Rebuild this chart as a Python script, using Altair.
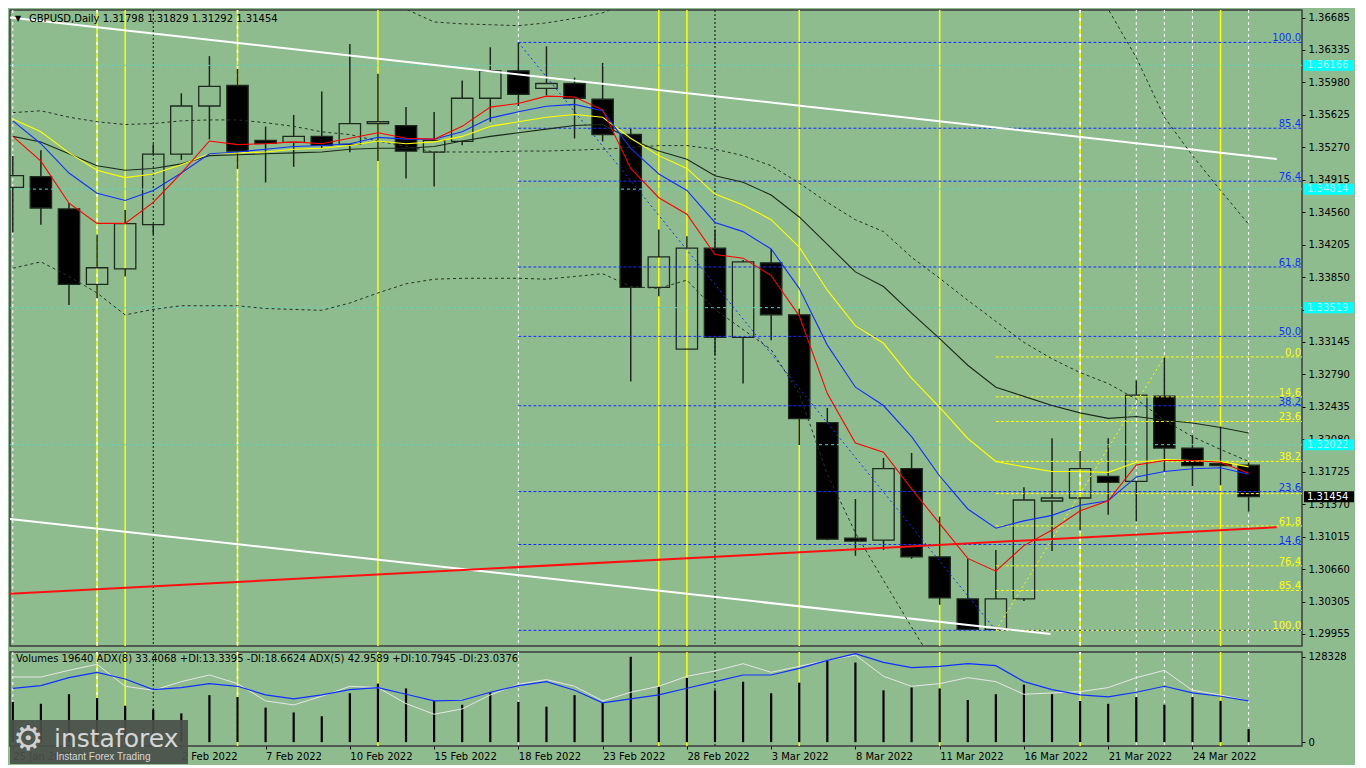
import altair as alt
import pandas as pd

# ---------------- data ----------------
dates = ["25 Jan 2022", "26 Jan 2022", "27 Jan 2022", "28 Jan 2022", "31 Jan 2022",
         "1 Feb 2022", "2 Feb 2022", "3 Feb 2022", "4 Feb 2022", "7 Feb 2022",
         "8 Feb 2022", "9 Feb 2022", "10 Feb 2022", "11 Feb 2022", "14 Feb 2022",
         "15 Feb 2022", "16 Feb 2022", "17 Feb 2022", "18 Feb 2022", "21 Feb 2022",
         "22 Feb 2022", "23 Feb 2022", "24 Feb 2022", "25 Feb 2022", "28 Feb 2022",
         "1 Mar 2022", "2 Mar 2022", "3 Mar 2022", "4 Mar 2022", "7 Mar 2022",
         "8 Mar 2022", "9 Mar 2022", "10 Mar 2022", "11 Mar 2022", "14 Mar 2022",
         "15 Mar 2022", "16 Mar 2022", "17 Mar 2022", "18 Mar 2022", "21 Mar 2022",
         "22 Mar 2022", "23 Mar 2022", "24 Mar 2022", "25 Mar 2022", "28 Mar 2022"]

opens = [1.34833, 1.34951, 1.34598, 1.33773, 1.33944, 1.34426, 1.35197, 1.35722, 1.35946, 1.35347,
         1.35325, 1.35390, 1.35304, 1.35529, 1.35507, 1.35218, 1.35336, 1.35807, 1.36107, 1.35914,
         1.35968, 1.35796, 1.35411, 1.33741, 1.33067, 1.34169, 1.33195, 1.34009, 1.33441, 1.32264,
         1.31001, 1.30979, 1.31761, 1.30797, 1.30337, 1.30005, 1.30337, 1.31407, 1.31440, 1.31675,
         1.31621, 1.32553, 1.31985, 1.31814, 1.31798]
highs = [1.35176, 1.35240, 1.34662, 1.34319, 1.34587, 1.35304, 1.35861, 1.36267, 1.36128, 1.35497,
         1.35625, 1.35882, 1.36400, 1.36075, 1.35711, 1.35657, 1.36000, 1.36364, 1.36417, 1.36374,
         1.36032, 1.36193, 1.35475, 1.34373, 1.34298, 1.34373, 1.34041, 1.34159, 1.33506, 1.32424,
         1.31429, 1.31878, 1.31932, 1.31236, 1.30776, 1.30872, 1.31557, 1.32093, 1.31953, 1.32093,
         1.32724, 1.32981, 1.32125, 1.32221, 1.31829]
lows = [1.34341, 1.34426, 1.33548, 1.33623, 1.33859, 1.34319, 1.35133, 1.35358, 1.35036, 1.34887,
        1.35058, 1.35261, 1.35218, 1.35122, 1.34929, 1.34844, 1.35293, 1.35550, 1.35722, 1.35839,
        1.35368, 1.35336, 1.32713, 1.33645, 1.33067, 1.33002, 1.32692, 1.33163, 1.32018, 1.30979,
        1.30808, 1.30872, 1.30776, 1.30273, 1.29994, 1.29994, 1.30315, 1.30861, 1.31086, 1.31258,
        1.31183, 1.31729, 1.31568, 1.31579, 1.31292]
closes = [1.34961, 1.34608, 1.33773, 1.33955, 1.34437, 1.35197, 1.35722, 1.35936, 1.35229, 1.35315,
          1.35390, 1.35293, 1.35529, 1.35550, 1.35229, 1.35347, 1.35807, 1.36107, 1.35850, 1.35968,
          1.35807, 1.35411, 1.33741, 1.34073, 1.34169, 1.33195, 1.34019, 1.33441, 1.32307, 1.30990,
          1.30969, 1.31761, 1.30797, 1.30348, 1.30005, 1.30337, 1.31418, 1.31440, 1.31761, 1.31611,
          1.32564, 1.31985, 1.31793, 1.31793, 1.31454]

ma_red = [1.3539, 1.3512, 1.3466, 1.3444, 1.3444, 1.3467, 1.3499, 1.3534, 1.3530, 1.3531,
          1.3533, 1.3531, 1.3537, 1.3543, 1.3537, 1.3536, 1.3550, 1.3571, 1.3575, 1.3583,
          1.3582, 1.3568, 1.3504, 1.3472, 1.3454, 1.3410, 1.3406, 1.3387, 1.3343, 1.3258,
          1.3204, 1.3194, 1.3154, 1.3116, 1.3078, 1.3064, 1.3092, 1.3109, 1.3130, 1.3141,
          1.3180, 1.3185, 1.3185, 1.3183, 1.3171]
ma_blue = [1.3556, 1.3531, 1.3499, 1.3477, 1.3469, 1.3480, 1.3499, 1.3520, 1.3522, 1.3525,
           1.3528, 1.3529, 1.3531, 1.3538, 1.3536, 1.3536, 1.3544, 1.3559, 1.3566, 1.3572,
           1.3574, 1.3567, 1.3526, 1.3498, 1.3480, 1.3445, 1.3435, 1.3416, 1.3373, 1.3311,
           1.3265, 1.3245, 1.3211, 1.3168, 1.3132, 1.3111, 1.3119, 1.3125, 1.3136, 1.3141,
           1.3167, 1.3173, 1.3176, 1.3177, 1.3170]
ma_yellow = [1.3558, 1.3544, 1.3521, 1.3502, 1.3494, 1.3498, 1.3508, 1.3520, 1.3521, 1.3522,
             1.3525, 1.3526, 1.3529, 1.3534, 1.3531, 1.3533, 1.3539, 1.3550, 1.3555, 1.3560,
             1.3563, 1.3560, 1.3537, 1.3518, 1.3504, 1.3476, 1.3464, 1.3448, 1.3418, 1.3371,
             1.3332, 1.3313, 1.3275, 1.3243, 1.3209, 1.3184, 1.3178, 1.3173, 1.3173, 1.3172,
             1.3183, 1.3186, 1.3185, 1.3184, 1.3178]
ma_dark = [1.3539, 1.3533, 1.3520, 1.3507, 1.3502, 1.3504, 1.3509, 1.3518, 1.3519, 1.3520,
           1.3521, 1.3522, 1.3525, 1.3526, 1.3526, 1.3528, 1.3534, 1.3539, 1.3543, 1.3547,
           1.3551, 1.3552, 1.3536, 1.3523, 1.3514, 1.3496, 1.3489, 1.3475, 1.3451, 1.3421,
           1.3391, 1.3375, 1.3346, 1.3318, 1.3289, 1.3265, 1.3255, 1.3245, 1.3237, 1.3231,
           1.3233, 1.3229, 1.3226, 1.3221, 1.3215]
bb_upper = [1.3735, 1.3732, 1.3735, 1.3742, 1.3759, 1.3756, 1.3758, 1.3760, 1.3760, 1.3757,
            1.3750, 1.3740, 1.3725, 1.3700, 1.3678, 1.3664, 1.3662, 1.3661, 1.3660, 1.3663,
            1.3668, 1.3674, 1.3687, 1.3694, 1.3689, 1.3701, 1.3706, 1.3708, 1.3718, 1.3764,
            1.3790, 1.3817, 1.3812, 1.3815, 1.3801, 1.3774, 1.3742, 1.3721, 1.3700, 1.3678,
            1.3625, 1.3560, 1.3518, 1.3480, 1.3443]
bb_mid = [1.3565, 1.3567, 1.3560, 1.3555, 1.3552, 1.3553, 1.3556, 1.3557, 1.3557, 1.3554,
          1.3550, 1.3544, 1.3541, 1.3534, 1.3528, 1.3522, 1.3522, 1.3522, 1.3523, 1.3523,
          1.3524, 1.3525, 1.3527, 1.3529, 1.3529, 1.3525, 1.3518, 1.3507, 1.3488, 1.3467,
          1.3448, 1.3435, 1.3407, 1.3384, 1.3360, 1.3337, 1.3314, 1.3296, 1.3281, 1.3269,
          1.3252, 1.3229, 1.3211, 1.3197, 1.3184]
bb_lower = [1.3395, 1.3402, 1.3386, 1.3368, 1.3344, 1.3350, 1.3354, 1.3354, 1.3354, 1.3351,
            1.3350, 1.3349, 1.3357, 1.3368, 1.3378, 1.3383, 1.3384, 1.3384, 1.3384, 1.3383,
            1.3386, 1.3389, 1.3375, 1.3373, 1.3382, 1.3350, 1.3328, 1.3306, 1.3258, 1.3170,
            1.3106, 1.3054, 1.3003, 1.2953, 1.2918, 1.2897, 1.2892, 1.2897, 1.2908, 1.2913,
            1.2924, 1.2929, 1.2929, 1.2927, 1.2925]

volumes = [60564, 57680, 72100, 66332, 54796, 49028, 43260, 70658, 67774, 51912,
           44702, 38934, 73542, 87962, 80752, 62006, 56238, 74984, 60564, 53354,
           70658, 59122, 128328, 83636, 96614, 77868, 90846, 73542, 89404, 122570,
           119686, 77868, 82194, 80752, 63448, 72100, 86520, 72100, 62006, 57680,
           67774, 56238, 67774, 62006, 19640]
adx_blue = [81, 85, 97, 105, 95, 79, 82, 88, 84, 71, 65, 71, 79, 82, 72, 62, 63, 75, 85, 91,
            78, 59, 65, 71, 81, 91, 101, 101, 111, 123, 133, 120, 112, 114, 118, 115, 91, 79, 71, 68,
            75, 84, 74, 69, 62]
adx_white = [98, 98, 108, 117, 84, 78, 91, 101, 88, 62, 56, 69, 84, 82, 58, 42, 50, 71, 87, 94,
             84, 62, 75, 84, 99, 107, 118, 105, 114, 123, 131, 99, 84, 88, 97, 91, 72, 74, 76, 82,
             97, 108, 78, 71, 62]

price_ticks = [1.36685, 1.36335, 1.35980, 1.35625, 1.35270, 1.34915, 1.34560, 1.34205, 1.33850,
               1.33495, 1.33145, 1.32790, 1.32435, 1.32080, 1.31725, 1.31370, 1.31015, 1.30660,
               1.30305, 1.29955]
date_ticks = [0, 6, 9, 12, 15, 18, 21, 24, 27, 30, 33, 36, 39, 42]
vol_ticks = [0, 128328]

cyan_levels = [1.36166, 1.34814, 1.33519, 1.32022]
last_price = 1.31454

fib_blue = {"i_hi": 18, "hi": 1.36417, "i_lo": 35, "lo": 1.29994}
fib_blue_pcts = [100.0, 85.4, 76.4, 61.8, 50.0, 38.2, 23.6, 14.6, 0.0]
fib_yel = {"i_lo": 35, "lo": 1.29994, "i_hi": 41, "hi": 1.32981}
fib_yel_pcts = [0.0, 14.6, 23.6, 38.2, 50.0, 61.8, 76.4, 85.4, 100.0]

# trend lines: (start index, start price, end index, end price)
trend_white = [(-0.1, 1.36688, 45.0, 1.35144), (-0.1, 1.31210, 36.95, 1.29954)]
trend_red = [(-0.1, 1.30393, 45.0, 1.31121)]

v_yellow = [4, 13, 23, 24, 28, 33, 43]
v_yellow_white = [3, 8, 38]
v_white = [0, 18, 40, 41, 42, 44]
v_black = [5, 25]

header = "GBPUSD,Daily  1.31798 1.31829 1.31292 1.31454"
vol_header = ("Volumes 19640  ADX(8) 33.4068 +DI:13.3395 -DI:18.6624  "
              "ADX(5) 42.9589 +DI:10.7945 -DI:23.0376")

# ---------------- styling ----------------
FONT = "DejaVu Sans"
BG = "#8fbc8f"
W, H1, H2 = 1292, 636, 94
XDOM = [-0.1, 45.9]
YDOM = [1.29823, 1.36771]
VDOM = [-5768, 135548]
CYAN = "#3fe0d0"
BLUE = "#1030ff"
YEL = "#ffff00"
WICK = "#1c261c"

n = len(dates)
df = pd.DataFrame({"i": list(range(n)), "date": dates, "o": opens, "h": highs, "l": lows,
                   "c": closes, "red": ma_red, "blue": ma_blue, "yellow": ma_yellow,
                   "dark": ma_dark, "bbu": bb_upper, "bbm": bb_mid, "bbl": bb_lower,
                   "vol": volumes, "adxb": [v * 1000 for v in adx_blue],
                   "adxw": [v * 1000 for v in adx_white]})
df["top"] = df[["o", "c"]].max(axis=1)
df["bot"] = df[["o", "c"]].min(axis=1)
df["zero"] = 0

xs = alt.Scale(domain=XDOM, nice=False, zero=False)
ys = alt.Scale(domain=YDOM, nice=False, zero=False)
vs = alt.Scale(domain=VDOM, nice=False, zero=False)

y_axis = alt.Axis(orient="right", values=price_ticks, format=".5f", title=None, grid=False,
                  domain=False, tickSize=3, tickColor="black", labelColor="black",
                  labelFont=FONT, labelFontSize=10, labelPadding=3, labelOverlap=False)
v_axis = alt.Axis(orient="right", values=vol_ticks, format="d", title=None, grid=False,
                  domain=False, tickSize=3, tickColor="black", labelColor="black",
                  labelFont=FONT, labelFontSize=10, labelPadding=3, labelOverlap=False)
label_js = "[" + ",".join("'%s'" % d for d in dates) + "][datum.value]"
x_axis = alt.Axis(values=date_ticks, labelExpr=label_js, title=None, grid=False, domain=False,
                  tickSize=3, tickColor="black", labelColor="black", labelFont=FONT,
                  labelFontSize=10, labelAlign="left", labelPadding=2, labelFlush=False,
                  labelOverlap=False, labelBound=False)


def X(f="i", axis=None):
    return alt.X(f"{f}:Q", scale=xs, axis=axis)


def Y(f):
    return alt.Y(f"{f}:Q", scale=ys, axis=y_axis)


def vlines(axis=None):
    out = []
    out.append(alt.Chart(pd.DataFrame({"i": v_yellow})).mark_rule(color=YEL, strokeWidth=1.5)
               .encode(x=X(axis=axis)))
    out.append(alt.Chart(pd.DataFrame({"i": v_yellow_white})).mark_rule(color=YEL, strokeWidth=1.5)
               .encode(x=X(axis=axis)))
    out.append(alt.Chart(pd.DataFrame({"i": v_yellow_white})).mark_rule(
        color="white", strokeWidth=1.5, strokeDash=[3, 5]).encode(x=X(axis=axis)))
    out.append(alt.Chart(pd.DataFrame({"i": v_white})).mark_rule(
        color="white", strokeWidth=1, strokeDash=[3, 3]).encode(x=X(axis=axis)))
    out.append(alt.Chart(pd.DataFrame({"i": v_black})).mark_rule(
        color="#101010", strokeWidth=1, strokeDash=[2, 2]).encode(x=X(axis=axis)))
    return out


base = alt.Chart(df)
layers = vlines()

# candles
layers.append(base.mark_rule(color=WICK, strokeWidth=1.5, clip=True)
              .encode(x=X(), y=Y("h"), y2="top:Q"))
layers.append(base.mark_rule(color=WICK, strokeWidth=1.5, clip=True)
              .encode(x=X(), y=Y("bot"), y2="l:Q"))
layers.append(base.transform_calculate(x1="datum.i - 0.38", x2="datum.i + 0.38")
              .mark_rect(stroke="#1e2a1e", strokeWidth=1.3, clip=True)
              .encode(x=X("x1"), x2="x2:Q", y=Y("o"), y2="c:Q",
                      fill=alt.condition("datum.c >= datum.o", alt.value("transparent"),
                                         alt.value("black"))))

# horizontal cyan levels
layers.append(alt.Chart(pd.DataFrame({"p": cyan_levels})).mark_rule(
    color=CYAN, strokeWidth=1, strokeDash=[3, 3]).encode(y=Y("p")))

# fibonacci levels
fb = pd.DataFrame({"pct": fib_blue_pcts})
fb["p"] = fib_blue["lo"] + (fib_blue["hi"] - fib_blue["lo"]) * fb["pct"] / 100
fb["xs"] = fib_blue["i_hi"]
fb["xe"] = XDOM[1]
fb["lab"] = fb["pct"].map(lambda v: "%.1f" % v)
fy = pd.DataFrame({"pct": fib_yel_pcts})
fy["p"] = fib_yel["hi"] - (fib_yel["hi"] - fib_yel["lo"]) * fy["pct"] / 100
fy["xs"] = fib_yel["i_lo"]
fy["xe"] = XDOM[1]
fy["lab"] = fy["pct"].map(lambda v: "%.1f" % v)

layers.append(alt.Chart(fb).mark_rule(color=BLUE, strokeWidth=1, strokeDash=[3, 2])
              .encode(x=X("xs"), x2="xe:Q", y=Y("p")))
layers.append(alt.Chart(fy).mark_rule(color=YEL, strokeWidth=1, strokeDash=[3, 2])
              .encode(x=X("xs"), x2="xe:Q", y=Y("p")))

# diagonals
diag_blue = pd.DataFrame({"x": [fib_blue["i_hi"]], "y": [fib_blue["hi"]],
                          "x2": [fib_blue["i_lo"]], "y2": [fib_blue["lo"]]})
diag_yel = pd.DataFrame({"x": [fib_yel["i_lo"]], "y": [fib_yel["lo"]],
                         "x2": [fib_yel["i_hi"]], "y2": [fib_yel["hi"]]})
tw = pd.DataFrame(trend_white, columns=["x", "y", "x2", "y2"])
tr = pd.DataFrame(trend_red, columns=["x", "y", "x2", "y2"])
layers.append(alt.Chart(diag_blue).mark_rule(color=BLUE, strokeWidth=1, strokeDash=[2, 3])
              .encode(x=X("x"), y=Y("y"), x2="x2:Q", y2="y2:Q"))
layers.append(alt.Chart(diag_yel).mark_rule(color=YEL, strokeWidth=1, strokeDash=[2, 3])
              .encode(x=X("x"), y=Y("y"), x2="x2:Q", y2="y2:Q"))
layers.append(alt.Chart(tw).mark_rule(color="white", strokeWidth=2)
              .encode(x=X("x"), y=Y("y"), x2="x2:Q", y2="y2:Q"))
layers.append(alt.Chart(tr).mark_rule(color="#ff1010", strokeWidth=2)
              .encode(x=X("x"), y=Y("y"), x2="x2:Q", y2="y2:Q"))

# bollinger bands
for f in ["bbu", "bbm", "bbl"]:
    layers.append(base.mark_line(color="#243424", strokeWidth=1, strokeDash=[3, 3], clip=True)
                  .encode(x=X(), y=Y(f)))
# moving averages
for f, col in [("dark", "#1a2a1a"), ("yellow", YEL), ("blue", BLUE), ("red", "#ff0000")]:
    layers.append(base.mark_line(color=col, strokeWidth=1.1, clip=True).encode(x=X(), y=Y(f)))

# fib labels
layers.append(alt.Chart(fb[fb["pct"] > 0]).mark_text(
    align="right", baseline="alphabetic", dy=-1, font=FONT, fontSize=10, color=BLUE)
    .encode(x=alt.value(W - 1), y=Y("p"), text="lab:N"))
layers.append(alt.Chart(fy[fy["pct"] != 50.0]).mark_text(
    align="right", baseline="alphabetic", dy=-1, font=FONT, fontSize=10, color=YEL)
    .encode(x=alt.value(W - 1), y=Y("p"), text="lab:N"))

# highlighted price labels on the right scale
hb = pd.DataFrame({"p": cyan_levels + [last_price],
                   "fill": ["#00ffff"] * len(cyan_levels) + ["#000000"],
                   "tc": ["#b8f4f4"] * len(cyan_levels) + ["#ffffff"]})
hb["lab"] = hb["p"].map(lambda v: "%.5f" % v)
layers.append(alt.Chart(hb).transform_calculate(lo="datum.p - 0.0006", hi="datum.p + 0.0006")
              .mark_rect().encode(x=alt.value(W + 2), x2=alt.value(W + 52), y=Y("lo"),
                                  y2="hi:Q", fill=alt.Fill("fill:N", scale=None)))
layers.append(alt.Chart(hb).mark_text(align="left", baseline="middle", font=FONT, fontSize=10)
              .encode(x=alt.value(W + 5), y=Y("p"), text="lab:N",
                      color=alt.Color("tc:N", scale=None)))

one = pd.DataFrame({"a": [0]})
layers.append(alt.Chart(one).mark_text(text="\u25bc", align="left", baseline="middle",
                                       fontSize=8, color="black", font=FONT)
              .encode(x=alt.value(5), y=alt.value(9)))
layers.append(alt.Chart(one).mark_text(text=header, align="left", baseline="middle",
                                       fontSize=10, color="black", font=FONT)
              .encode(x=alt.value(19), y=alt.value(9)))

main = alt.layer(*layers).properties(width=W, height=H1)

# ---------------- volume / ADX panel ----------------
vl = vlines(axis=x_axis)
vl.append(base.mark_rule(color="black", strokeWidth=2.2)
          .encode(x=X(axis=x_axis), y=alt.Y("vol:Q", scale=vs, axis=v_axis), y2="zero:Q"))
vl.append(base.mark_line(color="#e6e6e6", strokeWidth=1)
          .encode(x=X(axis=x_axis), y=alt.Y("adxw:Q", scale=vs, axis=v_axis)))
vl.append(base.mark_line(color=BLUE, strokeWidth=1.2)
          .encode(x=X(axis=x_axis), y=alt.Y("adxb:Q", scale=vs, axis=v_axis)))
vl.append(alt.Chart(one).mark_text(text=vol_header, align="left", baseline="middle",
                                   fontSize=10, color="black", font=FONT)
          .encode(x=alt.value(6), y=alt.value(7)))
# watermark logo
vl.append(alt.Chart(one).mark_rect(color="#4a4f4a", opacity=0.92)
          .encode(x=alt.value(0), x2=alt.value(178), y=alt.value(68), y2=alt.value(112)))
vl.append(alt.Chart(one).mark_text(text="\u2699", align="left", baseline="middle",
                                   fontSize=34, color="#d0d0d0", font=FONT)
          .encode(x=alt.value(3), y=alt.value(88)))
vl.append(alt.Chart(one).mark_text(text="instaforex", align="left", baseline="alphabetic",
                                   fontSize=25, color="#d6d6d6", font=FONT)
          .encode(x=alt.value(44), y=alt.value(95)))
vl.append(alt.Chart(one).mark_text(text="Instant Forex Trading", align="left",
                                   baseline="alphabetic", fontSize=10, color="#d6d6d6",
                                   font="Liberation Sans")
          .encode(x=alt.value(46), y=alt.value(108)))

vol = alt.layer(*vl).properties(width=W, height=H2)

chart = (alt.vconcat(main, vol, spacing=2)
         .properties(background=BG, padding=0)
         .configure_view(stroke="#3c3c3c", strokeWidth=1.5))

chart.save("out.html", embed_options={"renderer": "svg", "actions": False})
